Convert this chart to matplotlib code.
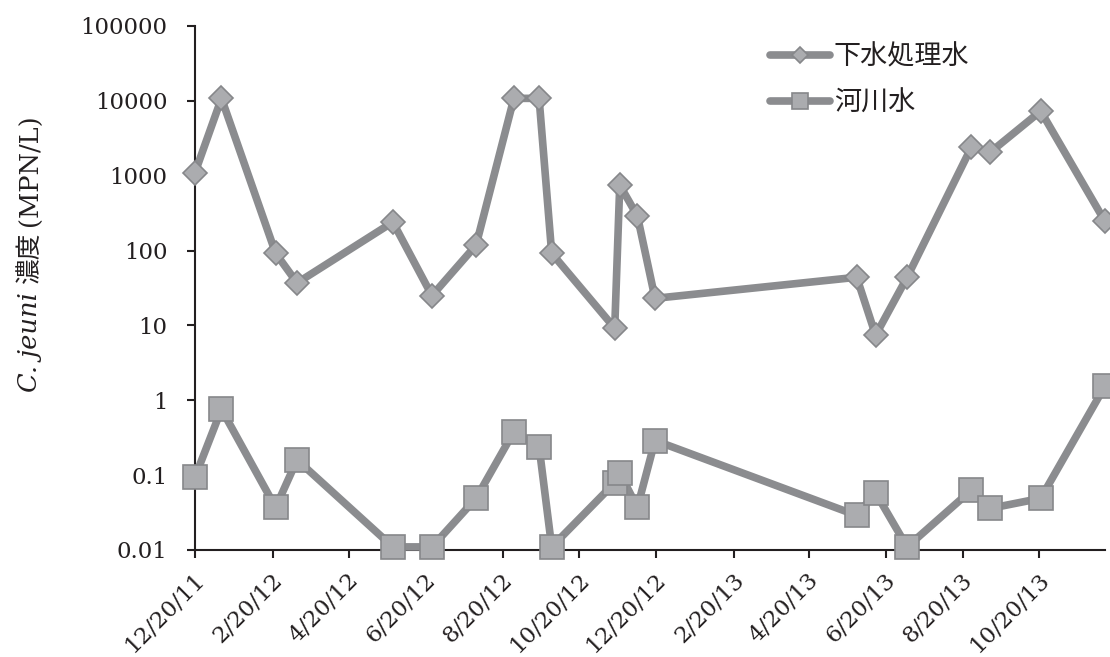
import matplotlib
matplotlib.use("Agg")
import matplotlib.pyplot as plt
import matplotlib.dates as mdates
import matplotlib.transforms as mtransforms
import numpy as np

# sampling dates
dates = ['2011-12-20', '2012-01-10', '2012-02-22', '2012-03-10', '2012-05-25',
         '2012-06-25', '2012-07-30', '2012-08-29', '2012-09-18', '2012-09-28',
         '2012-11-17', '2012-11-21', '2012-12-05', '2012-12-19', '2013-05-28',
         '2013-06-12', '2013-07-07', '2013-08-27', '2013-09-11', '2013-10-21',
         '2013-12-11']

# 下水処理水 (MPN/L)
sewage = [1100, 10800, 92, 37, 240, 25, 118, 10800, 10800, 92,
          9.2, 750, 290, 23, 44, 7.4, 44, 2400, 2060, 7300, 245]

# 河川水 (MPN/L)
river = [0.094, 0.76, 0.037, 0.16, 0.011, 0.011, 0.049, 0.38, 0.24, 0.011,
         0.079, 0.107, 0.037, 0.29, 0.029, 0.058, 0.011, 0.063, 0.036, 0.049, 1.55]

series_names = ['下水処理水', '河川水']

tick_dates = ['2011-12-20', '2012-02-20', '2012-04-20', '2012-06-20', '2012-08-20',
              '2012-10-20', '2012-12-20', '2013-02-20', '2013-04-20', '2013-06-20',
              '2013-08-20', '2013-10-20']
tick_labels = ['12/20/11', '2/20/12', '4/20/12', '6/20/12', '8/20/12', '10/20/12',
               '12/20/12', '2/20/13', '4/20/13', '6/20/13', '8/20/13', '10/20/13']

ytick_vals = [0.01, 0.1, 1, 10, 100, 1000, 10000, 100000]
ytick_labels = ['0.01', '0.1', '1', '10', '100', '1000', '10000', '100000']

line_c = '#8b8c8f'
face_c = '#abacaf'
edge_c = '#86878a'
ink = '#231f20'

plt.rcParams['font.family'] = ['DejaVu Serif']

W, H = 1110, 657
fig = plt.figure(figsize=(W / 100, H / 100), dpi=100)
ax = fig.add_axes([195 / W, 1 - 550 / H, (1105 - 195) / W, (550 - 26) / H])

x = mdates.datestr2num(dates)

ax.plot(x, sewage, color=line_c, lw=5.5, marker='D', ms=12, mfc=face_c, mec=edge_c,
        mew=1.2, solid_joinstyle='round', solid_capstyle='round', clip_on=False,
        zorder=3, label=series_names[0])
ax.plot(x, river, color=line_c, lw=5.5, marker='s', ms=17, mfc=face_c, mec=edge_c,
        mew=1.2, solid_joinstyle='round', solid_capstyle='round', clip_on=False,
        zorder=3, label=series_names[1])

ax.set_yscale('log')
ax.set_ylim(0.01, 100000)
ax.set_xlim(mdates.datestr2num('2011-12-20'), mdates.datestr2num('2013-12-11'))

ax.yaxis.set_major_locator(matplotlib.ticker.FixedLocator(ytick_vals))
ax.yaxis.set_minor_locator(matplotlib.ticker.NullLocator())
ax.set_yticklabels(ytick_labels)
ax.set_xticks(mdates.datestr2num(tick_dates))
ax.set_xticklabels(tick_labels)

for s in ['top', 'right']:
    ax.spines[s].set_visible(False)
for s in ['left', 'bottom']:
    ax.spines[s].set_linewidth(1.5)
    ax.spines[s].set_color(ink)

ax.tick_params(axis='both', direction='out', length=5.8, width=1.5, color=ink,
               labelcolor=ink, labelsize=16.5)
ax.tick_params(axis='y', pad=14)
ax.tick_params(axis='x', pad=13)

offset = mtransforms.ScaledTranslation(6 / 100, 0, fig.dpi_scale_trans)
for lab in ax.get_xticklabels():
    lab.set_rotation(45)
    lab.set_ha('right')
    lab.set_va('center')
    lab.set_rotation_mode('anchor')
    lab.set_transform(lab.get_transform() + offset)

leg = ax.legend(loc='upper left', bbox_to_anchor=(770 / W, 1 - 43 / H),
                bbox_transform=fig.transFigure, frameon=False, markerscale=0.65,
                handlelength=2.2, handletextpad=0.15, labelspacing=0.72,
                borderpad=0, borderaxespad=0,
                prop={'family': ['Noto Sans CJK JP'], 'size': 19.5})
for t in leg.get_texts():
    t.set_color(ink)

# y label: italic species name + Japanese + unit
fig.canvas.draw()
r = fig.canvas.get_renderer()
cx = 30 / W
t1 = fig.text(cx, 1 - 392 / H, 'C. jeuni', rotation=90, ha='center', va='bottom',
              fontsize=18.5, style='italic', color=ink)
fig.canvas.draw()
top = t1.get_window_extent(r).y1
t2 = fig.text(cx, (top + 9) / H, '濃度', rotation=90, ha='center', va='bottom',
              fontsize=18.5, family=['Noto Sans CJK JP'], color=ink)
fig.canvas.draw()
top = t2.get_window_extent(r).y1
fig.text(cx, (top + 6) / H, '(MPN/L)', rotation=90, ha='center', va='bottom',
         fontsize=18.5, color=ink)

fig.savefig('out.png', dpi=100)
